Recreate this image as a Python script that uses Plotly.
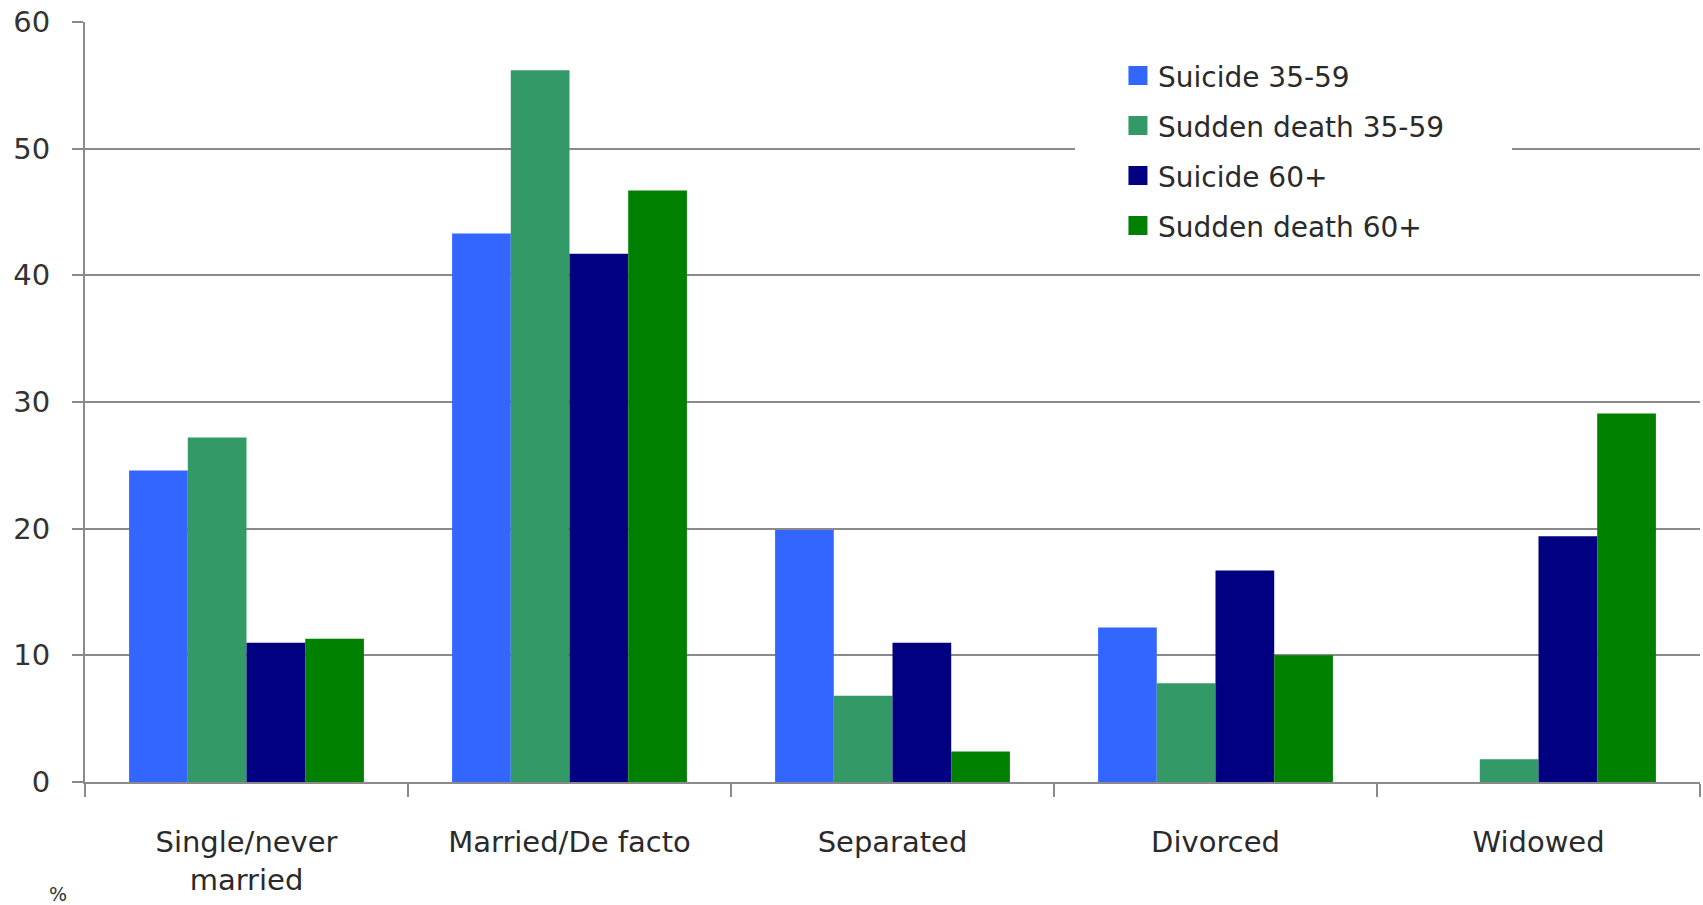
import plotly.graph_objects as go

# Marital status categories and percentage values for each group
categories = ["Single/never<br>married", "Married/De facto", "Separated", "Divorced", "Widowed"]
suicide_35_59 = [24.6, 43.3, 19.9, 12.2, 0.0]
sudden_35_59 = [27.2, 56.2, 6.8, 7.8, 1.8]
suicide_60 = [11.0, 41.7, 11.0, 16.7, 19.4]
sudden_60 = [11.3, 46.7, 2.4, 10.0, 29.1]

series_names = ["Suicide 35-59", "Sudden death 35-59", "Suicide 60+", "Sudden death 60+"]
series_values = [suicide_35_59, sudden_35_59, suicide_60, sudden_60]
colors = ["#3366FF", "#339966", "#000080", "#008000"]
y_ticks = [0, 10, 20, 30, 40, 50, 60]

fig = go.Figure()
for i, (name, vals, col) in enumerate(zip(series_names, series_values, colors)):
    fig.add_trace(go.Bar(
        x=categories, y=vals, name=name,
        marker=dict(color=col, line=dict(width=0)),
        showlegend=False,
    ))
    # legend key: a square marker in the series colour
    fig.add_trace(go.Scatter(
        x=[None], y=[None], name=name, mode="markers",
        marker=dict(symbol="square", size=16, color=col,
                    line=dict(color=col, width=3)),
        legendgroup=f"g{i}", showlegend=True,
    ))

grid_col = "#8a8a8a"
text_col = "#2a2a2a"
label_font = "DejaVu Sans"

fig.update_layout(
    width=1703, height=905,
    margin=dict(l=85, r=3, t=22, b=123),
    paper_bgcolor="white", plot_bgcolor="white",
    barmode="group", bargap=0.273, bargroupgap=0,
    font=dict(family=label_font, color=text_col),
    showlegend=True,
    legend=dict(
        x=0.6396, y=0.962, xanchor="left", yanchor="top",
        bgcolor="rgba(255,255,255,0)", borderwidth=0,
        font=dict(family=label_font, size=28, color=text_col),
        tracegroupgap=10.6,
        itemsizing="trace",
        itemwidth=30,
    ),
    xaxis=dict(
        type="category",
        showline=True, linecolor=grid_col, linewidth=2,
        ticks="outside", tickson="boundaries", ticklen=13,
        tickcolor=grid_col, tickwidth=2,
        tickfont=dict(family=label_font, size=29, color=text_col),
        ticklabelstandoff=33,
        showgrid=False,
    ),
    yaxis=dict(
        range=[0, 60], tickvals=y_ticks,
        showline=True, linecolor=grid_col, linewidth=2,
        ticks="outside", ticklen=11, tickcolor=grid_col, tickwidth=2,
        showgrid=True, gridcolor=grid_col, gridwidth=1.5,
        zeroline=False,
        tickfont=dict(family=label_font, size=29, color="#333333"),
        ticklabelstandoff=16,
    ),
    shapes=[dict(
        type="rect", xref="paper", yref="paper",
        x0=0.613, x1=0.8836, y0=0.70, y1=0.9605,
        fillcolor="white", line=dict(width=0), layer="above",
    )],
)

fig.add_annotation(
    text="%", xref="paper", yref="paper",
    x=-0.017, y=-0.147, xanchor="center", yanchor="middle",
    showarrow=False, font=dict(family=label_font, size=19, color="#333333"),
)

fig.write_html("out.html")
